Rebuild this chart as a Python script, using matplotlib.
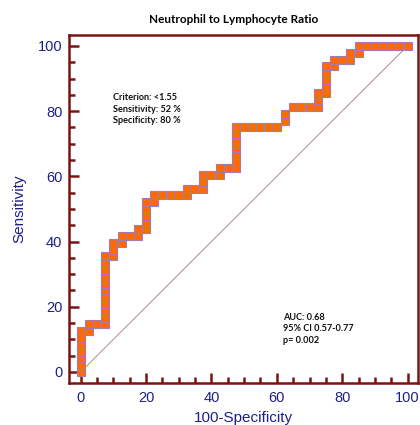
import matplotlib
matplotlib.use("Agg")
import matplotlib.pyplot as plt
from matplotlib.ticker import MultipleLocator

# ROC points (100-Specificity, Sensitivity), in %
FPR = [0, 0, 0, 0, 0, 0, 0,
       2.5, 2.5,
       5,
       7.5, 7.5, 7.5, 7.5, 7.5, 7.5, 7.5, 7.5, 7.5, 7.5, 7.5,
       10, 10, 10,
       12.5, 12.5,
       15,
       17.5, 17.5,
       20, 20, 20, 20, 20,
       22.5, 22.5,
       25, 27.5, 30,
       32.5, 32.5,
       35,
       37.5, 37.5, 37.5,
       40,
       42.5, 42.5,
       45,
       47.5, 47.5, 47.5, 47.5, 47.5, 47.5, 47.5,
       50, 52.5, 55, 57.5, 60,
       62.5, 62.5,
       65, 67.5, 70,
       72.5, 72.5, 72.5,
       75, 75, 75, 75, 75,
       77.5, 77.5,
       80,
       82.5, 82.5,
       85, 85,
       87.5, 90, 92.5, 95, 97.5, 100]
TPR = [0, 2.08, 4.17, 6.25, 8.33, 10.42, 12.5,
       12.5, 14.58,
       14.58,
       14.58, 16.67, 18.75, 20.83, 22.92, 25.0, 27.08, 29.17, 31.25, 33.33, 35.42,
       35.42, 37.5, 39.58,
       39.58, 41.67,
       41.67,
       41.67, 43.75,
       43.75, 45.83, 47.92, 50.0, 52.08,
       52.08, 54.17,
       54.17, 54.17, 54.17,
       54.17, 56.25,
       56.25,
       56.25, 58.33, 60.42,
       60.42,
       60.42, 62.5,
       62.5,
       62.5, 64.58, 66.67, 68.75, 70.83, 72.92, 75.0,
       75.0, 75.0, 75.0, 75.0, 75.0,
       77.08, 79.17,
       81.25, 81.25, 81.25,
       81.25, 83.33, 85.42,
       85.42, 87.5, 89.58, 91.67, 93.75,
       93.75, 95.83,
       95.83,
       95.83, 97.92,
       97.92, 100,
       100, 100, 100, 100, 100, 100]

TICKS = [0, 20, 40, 60, 80, 100]
TITLE = "Neutrophil to Lymphocyte Ratio"
BOX_LEFT = ["Criterion: <1.55", "Sensitivity: 52 %", "Specificity: 80 %"]
BOX_RIGHT = ["AUC: 0.68", "95% CI 0.57-0.77", "p= 0.002"]

DARKRED = "#7a1414"
NAVY = "#1f1f8a"
ORANGE = "#ff6a00"
EDGE = "#a27ab4"

fig = plt.figure(figsize=(4.2, 4.25), dpi=100)
ax = fig.add_axes([0.165, 0.0995, 0.8295, 0.8185])
ax.set_xlim(-3.5, 103.1)
ax.set_ylim(-3.3, 103.4)

ax.plot([0, 100], [0, 100], color="#a07a7a", lw=0.6, zorder=1)
ax.plot(FPR, TPR, color="#3b2366", lw=0.8, zorder=2)
ax.plot(FPR, TPR, ls="none", marker="s", ms=5.2, mfc=ORANGE, mec=EDGE, mew=0.8, zorder=3)

for s in ax.spines.values():
    s.set_color(DARKRED)
    s.set_linewidth(1.8)

ax.xaxis.set_minor_locator(MultipleLocator(5))
ax.yaxis.set_minor_locator(MultipleLocator(5))
ax.set_xticks(TICKS)
ax.set_yticks(TICKS)
ax.tick_params(which="both", direction="in", color=DARKRED, width=1.8,
               top=False, right=False, labelcolor=NAVY, labelsize=10.5)
ax.tick_params(which="major", length=7.5)
ax.tick_params(which="minor", length=4.5)
ax.tick_params(axis="x", pad=6)
ax.tick_params(axis="y", pad=5)
for lab in ax.get_xticklabels() + ax.get_yticklabels():
    lab.set_fontfamily("Liberation Sans")

ax.set_xlabel("100-Specificity", color=NAVY, fontsize=11, family="Liberation Sans", labelpad=4)
ax.set_ylabel("Sensitivity", color=NAVY, fontsize=11, family="Liberation Sans", labelpad=8)

fig.text(0.557, 0.953, TITLE, ha="center", va="center", fontsize=8.5,
         fontweight="bold", family="Lato", color="black")

for k, s in enumerate(BOX_LEFT):
    ax.text(9.8, 84.1 - k * 3.5, s, ha="left", va="center", fontsize=6.6,
            fontweight="bold", family="Lato", color="#111111")
for k, s in enumerate(BOX_RIGHT):
    ax.text(62.0, 16.8 - k * 3.5, s, ha="left", va="center", fontsize=6.6,
            fontweight="bold", family="Lato", color="#111111")

fig.savefig("out.png", facecolor="white")
